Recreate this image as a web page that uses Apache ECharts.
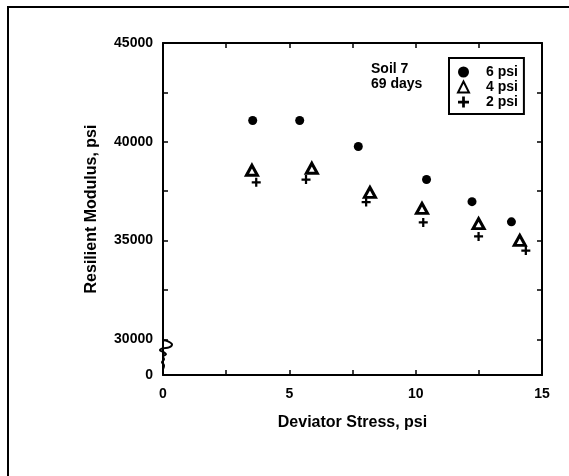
<!DOCTYPE html>
<html>
<head>
<meta charset="utf-8">
<script src="https://cdn.jsdelivr.net/npm/echarts@6/dist/echarts.min.js"></script>
<style>
html,body{margin:0;padding:0;background:#fff;}
#frame{position:absolute;left:7px;top:6px;width:600px;height:500px;border-left:2px solid #000;border-top:2px solid #000;}
#chart{position:absolute;left:0;top:0;width:569px;height:476px;}
</style>
</head>
<body>
<div id="frame"></div>
<div id="chart"></div>
<script>
// ---- data ----
const seriesNames = ['6 psi', '4 psi', '2 psi'];
const x6 = [3.55, 5.41, 7.73, 10.43, 12.23, 13.79];
const y6 = [41080, 41080, 39760, 38090, 36970, 35950];
const x4 = [3.52, 5.89, 8.19, 10.25, 12.49, 14.12];
const y4 = [38560, 38660, 37440, 36630, 35860, 35010];
const x2 = [3.69, 5.66, 8.04, 10.30, 12.49, 14.36];
const y2 = [37950, 38090, 36950, 35920, 35210, 34500];
const xTickLabels = [0, 5, 10, 15];
const yTickLabels = [0, 30000, 35000, 40000, 45000];
const yMinorTicks = [30000, 32500, 35000, 37500, 40000, 42500, 45000];
const annotation = ['Soil 7', '69 days'];

// broken axis: 0 is drawn just below the 30000 break
const Y_ZERO_AT = 28200;
function yMap(v){ return v === 0 ? Y_ZERO_AT : v; }

const FONT = 'Liberation Sans, Arial, Helvetica, sans-serif';
const axisLineStyle = {color:'#000', width:2};
const tickStyle = {color:'#000', width:1.5};

function pairs(xs, ys){ return xs.map((x,i)=>[x, yMap(ys[i])]); }

const chart = echarts.init(document.getElementById('chart'), null, {renderer:'canvas'});
const option = {
  animation:false,
  backgroundColor:'transparent',
  textStyle:{fontFamily:FONT},
  grid:{left:163, right:27, top:43, bottom:101, containLabel:false},
  title:{
    text: annotation.join('\n'),
    left:371, top:62, padding:0,
    textStyle:{fontFamily:FONT, fontSize:14, fontWeight:'bold', color:'#000', lineHeight:15}
  },
  legend:{
    data: seriesNames,
    orient:'vertical',
    left:449, top:58,
    borderColor:'#000', borderWidth:2,
    padding:[7,6,5,8],
    itemWidth:11, itemHeight:11, itemGap:1,
    textStyle:{fontFamily:FONT, fontSize:14, fontWeight:'bold', color:'#000', padding:[0,0,0,12], lineHeight:14},
    backgroundColor:'#fff'
  },
  xAxis:[{
    type:'value', min:0, max:15, interval:2.5, position:'bottom',
    name:'Deviator Stress, psi', nameLocation:'middle', nameGap:40,
    nameTextStyle:{fontFamily:FONT, fontSize:16, fontWeight:'bold', color:'#000'},
    axisLine:{show:true, onZero:false, lineStyle:axisLineStyle},
    axisTick:{show:true, inside:true, length:5, lineStyle:tickStyle},
    axisLabel:{show:true, customValues:xTickLabels, margin:12, fontFamily:FONT, fontSize:14, fontWeight:'bold', color:'#000'},
    splitLine:{show:false}
  },{
    type:'value', min:0, max:15, interval:2.5, position:'top',
    axisLine:{show:true, onZero:false, lineStyle:axisLineStyle},
    axisTick:{show:true, inside:true, length:5, lineStyle:tickStyle},
    axisLabel:{show:false},
    splitLine:{show:false}
  }],
  yAxis:[{
    type:'value', min:Y_ZERO_AT, max:45000, position:'left',
    name:'Resilient Modulus, psi', nameLocation:'middle', nameGap:63,
    nameTextStyle:{fontFamily:FONT, fontSize:16, fontWeight:'bold', color:'#000'},
    axisLine:{show:true, onZero:false, lineStyle:axisLineStyle},
    axisTick:{show:true, inside:true, length:5, lineStyle:tickStyle, customValues:yMinorTicks},
    axisLabel:{show:true, customValues:yTickLabels.map(yMap), margin:10, fontFamily:FONT, fontSize:14, fontWeight:'bold', color:'#000',
      showMinLabel:true, showMaxLabel:true,
      formatter:(v)=> (v === Y_ZERO_AT ? '0' : String(v))},
    splitLine:{show:false}
  },{
    type:'value', min:Y_ZERO_AT, max:45000, position:'right',
    axisLine:{show:true, onZero:false, lineStyle:axisLineStyle},
    axisTick:{show:true, inside:true, length:5, lineStyle:tickStyle, customValues:yMinorTicks},
    axisLabel:{show:false},
    splitLine:{show:false}
  }],
  series:[{
    name:seriesNames[0], type:'scatter', xAxisIndex:0, yAxisIndex:0,
    symbol:'circle', symbolSize:9,
    itemStyle:{color:'#000', opacity:1},
    data:pairs(x6, y6)
  },{
    name:seriesNames[1], type:'scatter', xAxisIndex:0, yAxisIndex:0,
    symbol:'triangle', symbolSize:[11,10],
    itemStyle:{color:'#fff', borderColor:'#000', borderWidth:3, opacity:1},
    data:pairs(x4, y4)
  },{
    name:seriesNames[2], type:'scatter', xAxisIndex:0, yAxisIndex:0,
    symbol:'path://M3,0H5V3H8V5H5V8H3V5H0V3H3Z', symbolSize:9,
    itemStyle:{color:'#000', opacity:1},
    data:pairs(x2, y2)
  },{
    // axis-break squiggle
    type:'custom', xAxisIndex:0, yAxisIndex:0, silent:true,
    data:[[0, 29500]],
    renderItem:function(params, api){
      const p = api.coord([api.value(0), api.value(1)]);
      const pts = [[0,-9],[5,-8],[9,-5],[6,-2],[0,-1],[-3,1],[1,3],[3,5],[0,7],[1,10],[-1,13],[1,16],[0,20]]
        .map(d=>[p[0]+d[0], p[1]+d[1]]);
      return {type:'polyline', shape:{points:pts, smooth:0.4}, style:{stroke:'#000', lineWidth:2, fill:null}};
    }
  }]
};
chart.setOption(option);
</script>
</body>
</html>
